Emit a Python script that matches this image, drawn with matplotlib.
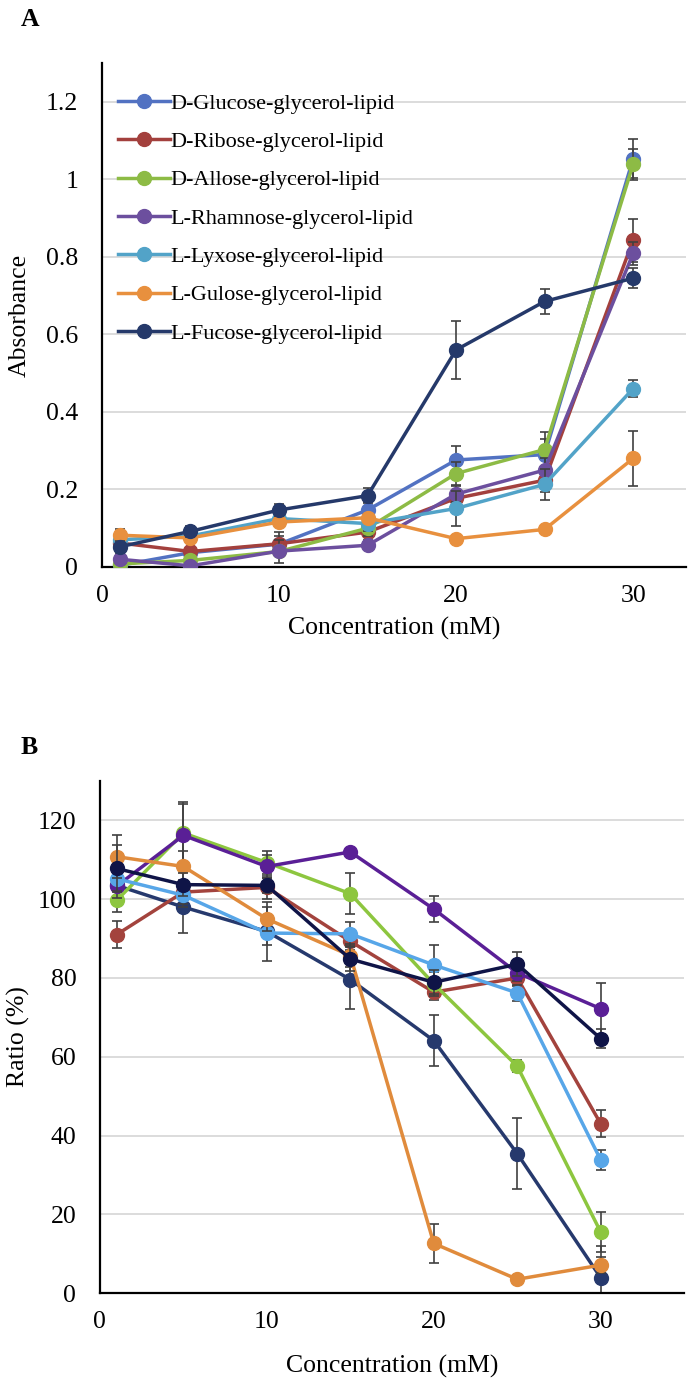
"""
Absorbance / ratio vs. concentration for the sugar-glycerol-lipids (panels A and B)
"""
import matplotlib
matplotlib.use("Agg")
import matplotlib.pyplot as plt

plt.rcParams['font.family'] = ['Liberation Serif', 'DejaVu Serif']

conc = [1, 5, 10, 15, 20, 25, 30]
names = ['D-Glucose-glycerol-lipid', 'D-Ribose-glycerol-lipid', 'D-Allose-glycerol-lipid',
         'L-Rhamnose-glycerol-lipid', 'L-Lyxose-glycerol-lipid', 'L-Gulose-glycerol-lipid',
         'L-Fucose-glycerol-lipid']

# panel A: absorbance
glucose_A = [0.004, 0.037, 0.059, 0.147, 0.276, 0.290, 1.053]
ribose_A = [0.062, 0.040, 0.060, 0.090, 0.177, 0.224, 0.843]
allose_A = [0.008, 0.017, 0.040, 0.100, 0.241, 0.303, 1.039]
rhamnose_A = [0.020, 0.003, 0.041, 0.056, 0.188, 0.250, 0.809]
lyxose_A = [0.070, 0.080, 0.125, 0.112, 0.151, 0.213, 0.460]
gulose_A = [0.082, 0.075, 0.116, 0.127, 0.073, 0.097, 0.280]
fucose_A = [0.052, 0.092, 0.147, 0.184, 0.560, 0.685, 0.745]

glucose_A_err = [0.01, 0.01, 0.03, 0.02, 0.035, 0.04, 0.05]
ribose_A_err = [0.02, 0.01, 0.02, 0.02, 0.02, 0.03, 0.055]
allose_A_err = [0.01, 0.01, 0.03, 0.02, 0.03, 0.045, 0.04]
rhamnose_A_err = [0.01, 0.01, 0.01, 0.01, 0.02, 0.03, 0.03]
lyxose_A_err = [0.01, 0.01, 0.01, 0.02, 0.045, 0.04, 0.022]
gulose_A_err = [0.015, 0.01, 0.01, 0.01, 0.01, 0.01, 0.07]
fucose_A_err = [0.015, 0.015, 0.015, 0.02, 0.075, 0.033, 0.025]

# panel B: ratio (%)
glucose_B = [103.5, 98.0, 91.8, 79.6, 64.1, 35.4, 3.9]
ribose_B = [91.0, 101.8, 103.0, 89.3, 76.4, 80.0, 43.0]
allose_B = [99.7, 116.8, 109.3, 101.4, 78.5, 57.6, 15.5]
rhamnose_B = [103.3, 116.2, 108.3, 112.0, 97.5, 81.3, 72.2]
lyxose_B = [105.2, 101.0, 91.4, 91.2, 83.3, 76.2, 33.8]
gulose_B = [110.8, 108.3, 95.0, 85.7, 12.6, 3.5, 7.1]
fucose_B = [107.8, 103.7, 103.5, 84.8, 78.9, 83.5, 64.6]

glucose_B_err = [4, 6.5, 7.5, 7.5, 6.5, 9, 8]
ribose_B_err = [3.5, 3, 3, 3, 2, 2, 3.5]
allose_B_err = [3, 8, 3, 5.2, 3, 1.5, 5]
rhamnose_B_err = [3, 8, 3, 1, 3.3, 2, 6.5]
lyxose_B_err = [3, 3, 3, 3, 5, 2, 2.5]
gulose_B_err = [5.5, 4, 3, 3, 5, 1, 2]
fucose_B_err = [6, 3, 2, 3, 3, 3, 2.5]

colors_A = ['#5272C2', '#A3403D', '#8DBB45', '#6C4F9E', '#52A3C8', '#E8903E', '#25396A']
colors_B = ['#26396D', '#A3433D', '#8DC63F', '#5A1F96', '#57A6E8', '#E08B3C', '#0F1447']

FS = 18.5


def draw(ax, series, errs, colors, labels=None):
    for i, (y, e) in enumerate(zip(series, errs)):
        ax.errorbar(conc, y, yerr=e, fmt='none', ecolor='#404040',
                    elinewidth=1.2, capsize=3.5, capthick=1.2, zorder=2 + i)
        ax.plot(conc, y, '-o', color=colors[i], lw=2.5, ms=10,
                label=labels[i] if labels else None, zorder=3 + i)
    ax.grid(axis='y', color='#D9D9D9', lw=1.3)
    ax.set_axisbelow(True)
    for s in ['top', 'right']:
        ax.spines[s].set_visible(False)
    for s in ['left', 'bottom']:
        ax.spines[s].set_linewidth(1.6)
    ax.tick_params(length=0, labelsize=FS)
    ax.tick_params(axis='x', pad=13)
    ax.tick_params(axis='y', pad=17)
    ax.set_xticks([0, 10, 20, 30])


fig = plt.figure(figsize=(6.89, 13.88), dpi=100)

axA = fig.add_axes([0.148, 0.5915, 0.848, 0.3631])
draw(axA,
     [glucose_A, ribose_A, allose_A, rhamnose_A, lyxose_A, gulose_A, fucose_A],
     [glucose_A_err, ribose_A_err, allose_A_err, rhamnose_A_err, lyxose_A_err, gulose_A_err, fucose_A_err],
     colors_A, names)
axA.set_xlim(0, 33)
axA.set_ylim(0, 1.3)
axA.set_yticks([0, 0.2, 0.4, 0.6, 0.8, 1.0, 1.2])
axA.set_yticklabels(['0', '0.2', '0.4', '0.6', '0.8', '1', '1.2'])
axA.set_ylabel('Absorbance', fontsize=FS)
axA.yaxis.set_label_coords(-0.122, 0.5)
axA.set_xlabel('Concentration (mM)', fontsize=FS)
axA.xaxis.set_label_coords(0.5, -0.099)
axA.legend(loc='upper left', bbox_to_anchor=(0.012, 0.958), frameon=False, fontsize=16,
           handlelength=2.35, handletextpad=0.0, labelspacing=0.8, borderaxespad=0)

axB = fig.add_axes([0.145, 0.0684, 0.848, 0.3689])
draw(axB,
     [glucose_B, ribose_B, allose_B, rhamnose_B, lyxose_B, gulose_B, fucose_B],
     [glucose_B_err, ribose_B_err, allose_B_err, rhamnose_B_err, lyxose_B_err, gulose_B_err, fucose_B_err],
     colors_B)
axB.set_xlim(0, 35)
axB.set_ylim(0, 130)
axB.set_yticks(range(0, 121, 20))
axB.set_ylabel('Ratio (%)', fontsize=FS)
axB.yaxis.set_label_coords(-0.12, 0.5)
axB.set_xlabel('Concentration (mM)', fontsize=FS)
axB.xaxis.set_label_coords(0.5, -0.121)

fig.text(0.03, 0.994, 'A', fontsize=FS, fontweight='bold', va='top')
fig.text(0.03, 0.47, 'B', fontsize=FS, fontweight='bold', va='top')

fig.savefig('out.png', dpi=100)
